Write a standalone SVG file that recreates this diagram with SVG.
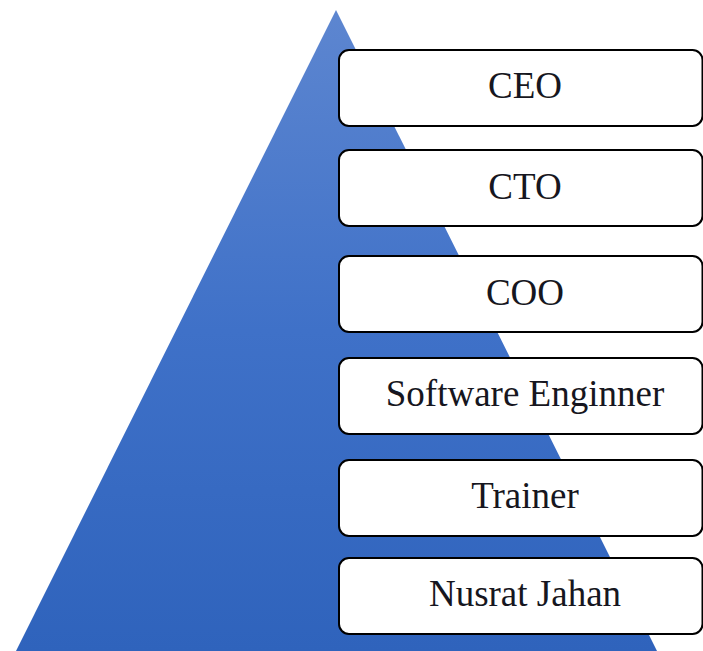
<svg xmlns="http://www.w3.org/2000/svg" width="703" height="651" viewBox="0 0 703 651">
<defs>
<linearGradient id="tri" x1="0" y1="0" x2="0" y2="1">
<stop offset="0" stop-color="#5d86d0"/>
<stop offset="0.5" stop-color="#3f71c8"/>
<stop offset="1" stop-color="#2f63bc"/>
</linearGradient>
</defs>
<style>
.box{fill:#ffffff;stroke:#000000;stroke-width:2}
.lbl{font-family:"Liberation Serif","Times New Roman",serif;font-size:37px;fill:#161620;text-anchor:middle}
</style>
<g id="pyramid"><polygon points="336,10 16,651 657,651" fill="url(#tri)"/></g>
<g id="connectors"></g>
<g id="ceo"><rect class="box" x="339" y="50" width="363.5" height="76" rx="10"/><text class="lbl" x="525" y="98">CEO</text></g>
<g id="cto"><rect class="box" x="339" y="150" width="363.5" height="76" rx="10"/><text class="lbl" x="525" y="199">CTO</text></g>
<g id="coo"><rect class="box" x="339" y="256" width="363.5" height="76" rx="10"/><text class="lbl" x="525" y="305">COO</text></g>
<g id="software-engineer"><rect class="box" x="339" y="358" width="363.5" height="76" rx="10"/><text class="lbl" x="525" y="406">Software Enginner</text></g>
<g id="trainer"><rect class="box" x="339" y="460" width="363.5" height="76" rx="10"/><text class="lbl" x="525" y="508">Trainer</text></g>
<g id="nusrat"><rect class="box" x="339" y="558" width="363.5" height="76" rx="10"/><text class="lbl" x="525" y="606">Nusrat Jahan</text></g>
</svg>
